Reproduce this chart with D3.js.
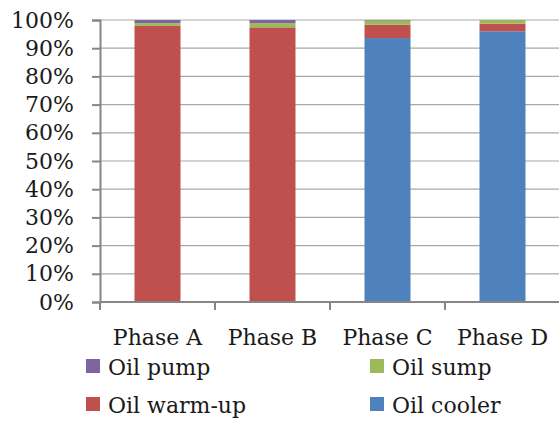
<!DOCTYPE html>
<html><head><meta charset="utf-8">
<script src="https://cdn.jsdelivr.net/npm/d3@7"></script>
<style>body{margin:0;background:#fff}svg{display:block}text{font-family:"DejaVu Serif",serif;fill:#1a1a1a}</style>
</head><body><svg id="c" width="559" height="421"></svg>
<script>
const phases = ["Phase A", "Phase B", "Phase C", "Phase D"];
const oilCooler = [0, 0, 93.6, 96.0];
const oilWarmUp = [97.9, 97.4, 4.7, 2.7];
const oilSump = [1.0, 1.5, 1.5, 1.3];
const oilPump = [1.1, 1.1, 0.2, 0];
const yTicks = [0, 10, 20, 30, 40, 50, 60, 70, 80, 90, 100];
const seriesNames = ["Oil cooler", "Oil warm-up", "Oil sump", "Oil pump"];
const seriesVals = [oilCooler, oilWarmUp, oilSump, oilPump];
const colors = ["#4F81BD", "#C0504D", "#9BBB59", "#8064A2"];

const svg = d3.select("#c");
const x0 = 100, x1 = 560, yTop = 20, yBot = 302;
const x = d3.scaleBand().domain(phases).range([x0, x1]).paddingInner(0.6).paddingOuter(0.3);
const y = d3.scaleLinear().domain([0, 100]).range([yBot, yTop]);

// gridlines
svg.append("g").selectAll("line").data(yTicks.filter(t => t > 0)).join("line")
  .attr("x1", x0).attr("x2", 559).attr("y1", d => y(d)).attr("y2", d => y(d))
  .attr("stroke", "#a8a8a8").attr("stroke-width", 1.2);

// stacked bars
const rows = phases.map((p, i) => {
  const o = {phase: p};
  seriesNames.forEach((s, j) => o[s] = seriesVals[j][i]);
  return o;
});
const stack = d3.stack().keys(seriesNames)(rows);
svg.append("g").selectAll("g").data(stack).join("g")
  .attr("fill", (d, i) => colors[i])
  .selectAll("rect").data(d => d).join("rect")
  .attr("x", d => x(d.data.phase)).attr("width", x.bandwidth())
  .attr("y", d => y(d[1])).attr("height", d => Math.max(0, y(d[0]) - y(d[1])));

// y axis
const yAxis = d3.axisLeft(y).tickValues(yTicks).tickFormat(d => d + "%").tickSize(8).tickPadding(18);
const gy = svg.append("g").attr("transform", `translate(${x0},0)`).call(yAxis);
gy.select(".domain").attr("stroke", "#868686").attr("stroke-width", 2);
gy.selectAll(".tick line").attr("stroke", "#868686").attr("stroke-width", 2);
gy.selectAll("text").attr("font-size", 22).attr("font-family", "DejaVu Serif").attr("fill", "#1a1a1a");

// x axis with boundary ticks
const xl = d3.scaleLinear().domain([0, phases.length]).range([x0, x1]);
const gx = svg.append("g");
gx.append("line").attr("x1", x0).attr("x2", 559).attr("y1", yBot).attr("y2", yBot)
  .attr("stroke", "#868686").attr("stroke-width", 2);
gx.selectAll(".bt").data(d3.range(phases.length + 1)).join("line").attr("class", "bt")
  .attr("x1", d => xl(d)).attr("x2", d => xl(d)).attr("y1", yBot).attr("y2", yBot + 8)
  .attr("stroke", "#868686").attr("stroke-width", 2);
gx.selectAll("text").data(phases).join("text")
  .attr("x", d => x(d) + x.bandwidth() / 2).attr("y", 345)
  .attr("text-anchor", "middle").attr("font-size", 22).text(d => d);

// legend
const legend = [
  {name: "Oil pump", c: colors[3], lx: 86, ly: 375},
  {name: "Oil sump", c: colors[2], lx: 370, ly: 375},
  {name: "Oil warm-up", c: colors[1], lx: 86, ly: 413},
  {name: "Oil cooler", c: colors[0], lx: 370, ly: 413}
];
const lg = svg.append("g").selectAll("g").data(legend).join("g");
lg.append("rect").attr("x", d => d.lx).attr("y", d => d.ly - 16).attr("width", 14).attr("height", 14).attr("fill", d => d.c);
lg.append("text").attr("x", d => d.lx + 22).attr("y", d => d.ly).attr("font-size", 22).text(d => d.name);
</script></body></html>
